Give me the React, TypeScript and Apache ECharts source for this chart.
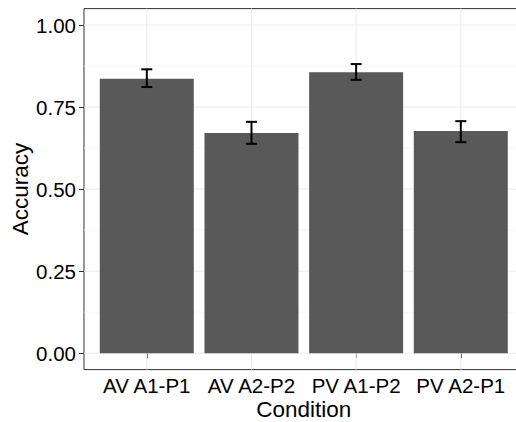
import React, { useEffect, useRef } from "react";
import * as echarts from "echarts";

const categories = ["AV A1-P1", "AV A2-P2", "PV A1-P2", "PV A2-P1"];
const accuracy = [0.836, 0.671, 0.856, 0.677];
const errLow = [0.811, 0.638, 0.833, 0.643];
const errHigh = [0.865, 0.705, 0.881, 0.707];
const yTicks = [0, 0.25, 0.5, 0.75, 1];
const yMinor = [0.125, 0.375, 0.625, 0.875];
const xPositions = [1, 2, 3, 4];

const FONT = "Liberation Sans, Arial, sans-serif";

export default function App() {
  const ref = useRef<HTMLDivElement>(null);
  useEffect(() => {
    if (!ref.current) return;
    const chart = echarts.init(ref.current, null, { renderer: "svg" });
    const gridData: any[] = [];
    yTicks.forEach((v) => gridData.push(["h", v, 1]));
    yMinor.forEach((v) => gridData.push(["h", v, 0]));
    xPositions.forEach((v) => gridData.push(["v", v, 1]));

    chart.setOption({
      animation: false,
      backgroundColor: "#ffffff",
      textStyle: { fontFamily: FONT },
      grid: {
        left: 84,
        top: 8.6,
        bottom: 52.4,
        width: 439.6,
        show: true,
        backgroundColor: "#ffffff",
        borderColor: "#333333",
        borderWidth: 1,
        containLabel: false,
        outerBoundsMode: "none",
      },
      xAxis: {
        type: "value",
        min: 0.4,
        max: 4.6,
        name: "Condition",
        nameLocation: "middle",
        nameGap: 28,
        nameMoveOverlap: false,
        nameTextStyle: { fontSize: 22.5, color: "#000", fontFamily: FONT },
        axisLine: { show: false },
        splitLine: { show: false },
        axisTick: {
          show: true,
          length: 5,
          customValues: xPositions,
          lineStyle: { color: "#333333", width: 1 },
        },
        axisLabel: {
          customValues: xPositions,
          margin: 5,
          fontSize: 20.5,
          color: "#000",
          fontFamily: FONT,
          formatter: (v: number) => categories[Math.round(v) - 1] ?? "",
        },
      },
      yAxis: {
        type: "value",
        min: -0.05,
        max: 1.05,
        name: "Accuracy",
        nameLocation: "middle",
        nameGap: 52,
        nameMoveOverlap: false,
        nameTextStyle: { fontSize: 22.5, color: "#000", fontFamily: FONT },
        axisLine: { show: false },
        splitLine: { show: false },
        axisTick: {
          show: true,
          length: 5,
          customValues: yTicks,
          lineStyle: { color: "#333333", width: 1 },
        },
        axisLabel: {
          customValues: yTicks,
          margin: 8,
          fontSize: 20.5,
          color: "#000",
          fontFamily: FONT,
          formatter: (v: number) => v.toFixed(2),
        },
      },
      series: [
        {
          type: "custom",
          z: 1,
          silent: true,
          data: gridData,
          renderItem: (params: any, api: any) => {
            const kind = gridData[params.dataIndex][0];
            const v = api.value(1);
            const major = api.value(2) === 1;
            const cs = params.coordSys;
            const style = { stroke: major ? "#ebebeb" : "#f3f3f3", lineWidth: major ? 1 : 0.7 };
            if (kind === "h") {
              const p = api.coord([1, v]);
              return {
                type: "line",
                shape: { x1: cs.x, y1: p[1], x2: cs.x + cs.width, y2: p[1] },
                style,
              };
            }
            const p = api.coord([v, 0]);
            return {
              type: "line",
              shape: { x1: p[0], y1: cs.y, x2: p[0], y2: cs.y + cs.height },
              style,
            };
          },
          encode: { x: 1, y: 1 },
        },
        {
          type: "bar",
          z: 2,
          barWidth: 94,
          itemStyle: { color: "#595959" },
          data: accuracy.map((v, i) => [xPositions[i], v]),
        },
        {
          type: "custom",
          z: 3,
          data: accuracy.map((_, i) => [xPositions[i], errLow[i], errHigh[i]]),
          encode: { x: 0, y: [1, 2] },
          renderItem: (params: any, api: any) => {
            const x = api.value(0);
            const lo = api.coord([x, api.value(1)]);
            const hi = api.coord([x, api.value(2)]);
            const hw = 5.5;
            const style = { stroke: "#000000", lineWidth: 2 };
            return {
              type: "group",
              children: [
                { type: "line", shape: { x1: lo[0], y1: lo[1], x2: hi[0], y2: hi[1] }, style },
                { type: "line", shape: { x1: lo[0] - hw, y1: lo[1], x2: lo[0] + hw, y2: lo[1] }, style },
                { type: "line", shape: { x1: hi[0] - hw, y1: hi[1], x2: hi[0] + hw, y2: hi[1] }, style },
              ],
            };
          },
        },
      ],
    });
    return () => chart.dispose();
  }, []);
  return (
    <div
      style={{ position: "fixed", left: 0, top: 0, width: 516, height: 422, overflow: "hidden", background: "#fff" }}
    >
      <div ref={ref} style={{ width: 540, height: 422 }} />
    </div>
  );
}
